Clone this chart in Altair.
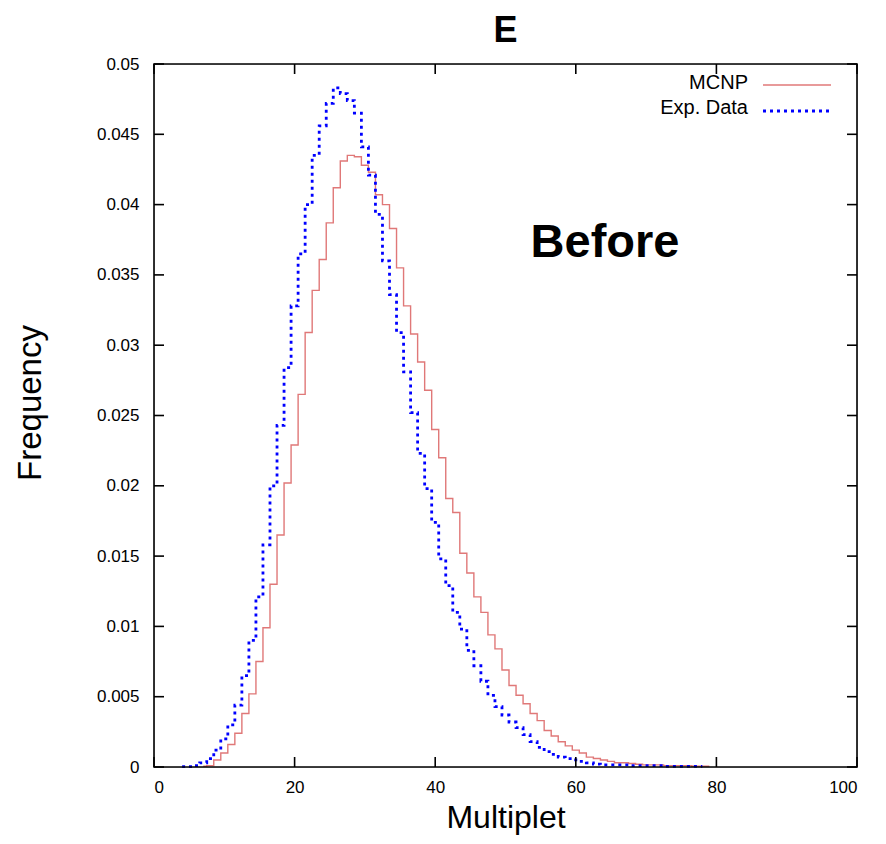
import altair as alt
import pandas as pd

# ---- data ----
mcnp_x = list(range(7, 80))
mcnp_y = [0.00005, 0.0001, 0.0005, 0.0010, 0.0016, 0.0024, 0.0038, 0.0052, 0.0075, 0.0099,
          0.0130, 0.0165, 0.0202, 0.0229, 0.0265, 0.0309, 0.0339, 0.0361, 0.0387, 0.0412,
          0.0431, 0.0435, 0.0434, 0.0428, 0.0423, 0.0407, 0.0400, 0.0383, 0.0355, 0.0328,
          0.0308, 0.0288, 0.0268, 0.0240, 0.0220, 0.0191, 0.0181, 0.0152, 0.0138, 0.0121,
          0.0110, 0.0094, 0.0084, 0.0069, 0.0058, 0.0051, 0.0045, 0.0038, 0.0033, 0.0026,
          0.0022, 0.0018, 0.0015, 0.0012, 0.0010, 0.0007, 0.0006, 0.0005, 0.0004, 0.0003,
          0.0003, 0.00025, 0.0002, 0.00015, 0.00015, 0.00015, 0.0001, 0.0001, 0.0001, 0.0001,
          0.00005, 0.00005, 0.00005]

exp_x = list(range(4, 79))
exp_y = [0.00002, 0.00003, 0.0001, 0.0003, 0.0006, 0.0012, 0.0020, 0.0030, 0.0044, 0.0065,
         0.0090, 0.0121, 0.0158, 0.0200, 0.0243, 0.0284, 0.0328, 0.0365, 0.0400, 0.0435,
         0.0456, 0.0472, 0.0483, 0.0479, 0.0474, 0.0465, 0.0441, 0.0421, 0.0393, 0.0360,
         0.0336, 0.0309, 0.0281, 0.0252, 0.0223, 0.0198, 0.0174, 0.0148, 0.0129, 0.0110,
         0.0098, 0.0083, 0.0072, 0.0061, 0.0051, 0.0043, 0.0037, 0.0032, 0.0028, 0.0023,
         0.0018, 0.0014, 0.0011, 0.0009, 0.0007, 0.0006, 0.0005, 0.0004, 0.0003, 0.0002,
         0.00015, 0.00015, 0.00015, 0.00015, 0.0001, 0.0001, 0.0001, 0.0001, 0.0001, 0.00005,
         0.00005, 0.00005, 0.00005, 0.00005, 0.00005]

x_ticks = [0, 20, 40, 60, 80, 100]
y_ticks = [0, 0.005, 0.01, 0.015, 0.02, 0.025, 0.03, 0.035, 0.04, 0.045, 0.05]
legend_labels = ["MCNP", "Exp. Data"]
title_text = "E"
note_text = "Before"

W, H = 703, 703
FONT = "Liberation Sans"
RED = "#e07878"
BLUE = "#0000ff"

df_mcnp = pd.DataFrame({"x": mcnp_x, "y": mcnp_y})
df_exp = pd.DataFrame({"x": exp_x, "y": exp_y})
df_xt = pd.DataFrame({"t": x_ticks})
df_yt = pd.DataFrame({"t": y_ticks})

xs = alt.Scale(domain=[0, 100], nice=False)
ys = alt.Scale(domain=[0, 0.05], nice=False)

xaxis = alt.Axis(values=x_ticks, tickSize=0, domain=False, grid=False, labelPadding=12,
                 labelFontSize=17, labelFont=FONT, labelColor="black",
                 title="Multiplet", titleFontSize=32, titleFont=FONT, titleFontWeight="normal",
                 titleColor="black", titleX=W / 2, titleY=60, titleBaseline="alphabetic")
yaxis = alt.Axis(values=y_ticks, tickSize=0, domain=False, grid=False, labelPadding=15,
                 format="~g", labelFontSize=17, labelFont=FONT, labelColor="black",
                 title="Frequency", titleFontSize=33, titleFont=FONT, titleFontWeight="normal",
                 titleColor="black", titleX=-124, titleY=H / 2 - 13, titleAngle=-90,
                 titleBaseline="middle", titleAlign="center")

mcnp = alt.Chart(df_mcnp).mark_line(interpolate="step", color=RED, strokeWidth=1.4).encode(
    x=alt.X("x:Q", scale=xs, axis=xaxis),
    y=alt.Y("y:Q", scale=ys, axis=yaxis),
)
exp = alt.Chart(df_exp).mark_line(interpolate="step", color=BLUE, strokeWidth=2.8,
                                  strokeDash=[3, 4]).encode(
    x=alt.X("x:Q", scale=xs),
    y=alt.Y("y:Q", scale=ys),
)

one = pd.DataFrame({"k": [0]})
frame = alt.Chart(one).mark_rect(filled=False, stroke="black", strokeWidth=1.6).encode(
    x=alt.value(0), x2=alt.value(W), y=alt.value(0), y2=alt.value(H))

tick_len = 10
xt_bottom = alt.Chart(df_xt).mark_rule(color="black", strokeWidth=1.6).encode(
    x=alt.X("t:Q", scale=xs), y=alt.value(H), y2=alt.value(H - tick_len))
xt_top = alt.Chart(df_xt).mark_rule(color="black", strokeWidth=1.6).encode(
    x=alt.X("t:Q", scale=xs), y=alt.value(0), y2=alt.value(tick_len))
yt_left = alt.Chart(df_yt).mark_rule(color="black", strokeWidth=1.6).encode(
    y=alt.Y("t:Q", scale=ys), x=alt.value(0), x2=alt.value(tick_len))
yt_right = alt.Chart(df_yt).mark_rule(color="black", strokeWidth=1.6).encode(
    y=alt.Y("t:Q", scale=ys), x=alt.value(W), x2=alt.value(W - tick_len))

# legend (top right, inside)
leg1_t = alt.Chart(pd.DataFrame({"l": [legend_labels[0]]})).mark_text(
    align="right", baseline="middle", fontSize=20, font=FONT, color="black").encode(
    text="l:N", x=alt.value(594), y=alt.value(19))
leg2_t = alt.Chart(pd.DataFrame({"l": [legend_labels[1]]})).mark_text(
    align="right", baseline="middle", fontSize=20, font=FONT, color="black").encode(
    text="l:N", x=alt.value(594), y=alt.value(44))
leg1_l = alt.Chart(pd.DataFrame({"l": [legend_labels[0]]})).mark_rule(
    color=RED, strokeWidth=1.4).encode(x=alt.value(609), x2=alt.value(677), y=alt.value(21))
leg2_l = alt.Chart(pd.DataFrame({"l": [legend_labels[1]]})).mark_rule(
    color=BLUE, strokeWidth=2.8, strokeDash=[3, 4]).encode(
    x=alt.value(609), x2=alt.value(677), y=alt.value(47))

note = alt.Chart(pd.DataFrame({"n": [note_text]})).mark_text(
    align="center", baseline="middle", fontSize=47, fontWeight="bold", font=FONT,
    color="black").encode(text="n:N", x=alt.value(451), y=alt.value(179))

title_mark = alt.Chart(pd.DataFrame({"n": [title_text]})).mark_text(
    align="center", baseline="alphabetic", fontSize=36, fontWeight="bold", font=FONT,
    color="black").encode(text="n:N", x=alt.value(W / 2), y=alt.value(-22))

chart = alt.layer(mcnp, exp, frame, xt_bottom, xt_top, yt_left, yt_right,
                  leg1_t, leg2_t, leg1_l, leg2_l, note, title_mark).properties(
    width=W, height=H,
    autosize=alt.AutoSizeParams(type="none"),
    padding={"left": 146, "top": 56, "right": 21, "bottom": 69},
).configure_view(stroke=None).configure(background="white")

chart.save("out.html", embed_options={"renderer": "svg", "actions": False})
